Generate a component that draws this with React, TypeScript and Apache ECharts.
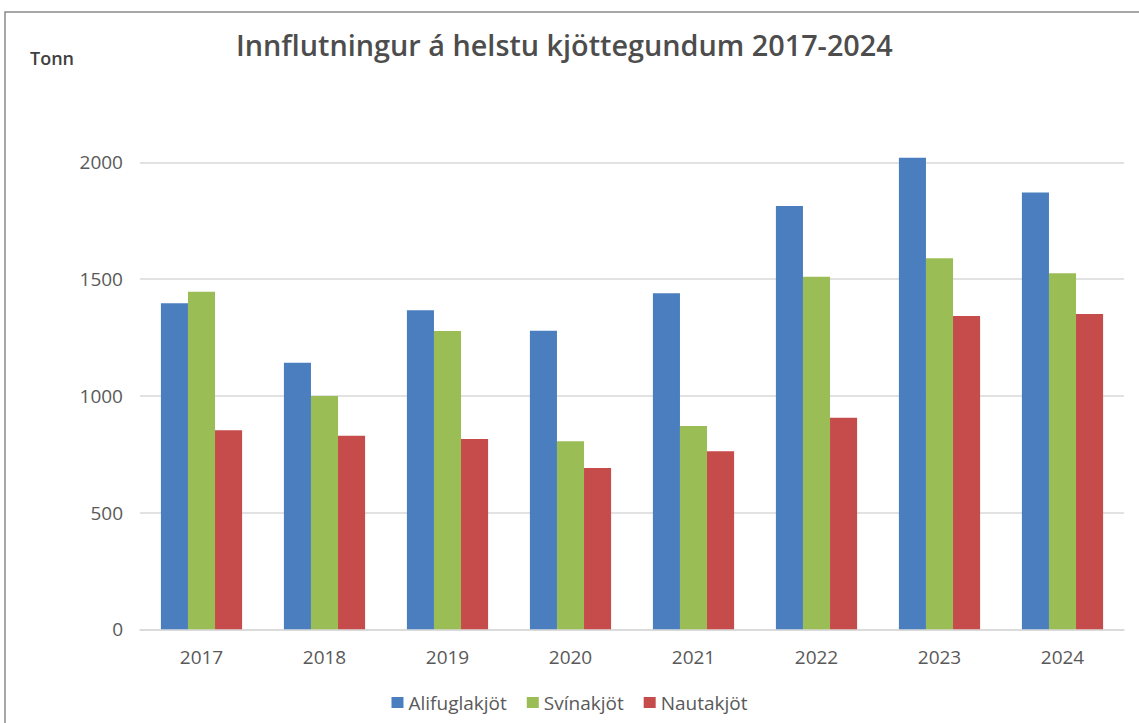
import React, { useEffect, useRef } from "react";
import * as echarts from "echarts";

const categories = ["2017", "2018", "2019", "2020", "2021", "2022", "2023", "2024"];
const alifuglakjot = [1396, 1142, 1366, 1279, 1439, 1813, 2020, 1871];
const svinakjot = [1446, 999, 1278, 805, 871, 1510, 1589, 1525];
const nautakjot = [852, 829, 815, 691, 763, 906, 1342, 1350];
const seriesNames = ["Alifuglakjöt", "Svínakjöt", "Nautakjöt"];
const titleText = "Innflutningur á helstu kjöttegundum 2017-2024";
const unitText = "Tonn";

const FONT = "'Open Sans', sans-serif";

export default function App() {
  const ref = useRef<HTMLDivElement>(null);
  useEffect(() => {
    if (!ref.current) return;
    const chart = echarts.init(ref.current, null, { renderer: "svg" });
    const mkSeries = (name: string, data: number[], color: string) => ({
      name,
      type: "bar",
      data,
      clip: false,
      barGap: "0%",
      barCategoryGap: "34%",
      itemStyle: { color },
    });
    chart.setOption({
      animation: false,
      backgroundColor: "#ffffff",
      textStyle: { fontFamily: FONT },
      title: {
        text: titleText,
        left: 231,
        top: 25,
        textStyle: { fontFamily: FONT, fontSize: 28.8, fontWeight: 600, color: "#4d4d4d" },
      },
      graphic: [
        {
          type: "rect",
          shape: { x: 5, y: 12, width: 1300, height: 900 },
          style: { fill: "none", stroke: "#8a8a8a", lineWidth: 1.5 },
          silent: true,
        },
        {
          type: "text",
          x: 30,
          y: 58,
          style: {
            text: unitText,
            fontFamily: FONT,
            fontSize: 18,
            fontWeight: 600,
            fill: "#404040",
            verticalAlign: "middle",
          },
        },
      ],
      legend: {
        data: seriesNames,
        left: "center",
        top: 688,
        itemWidth: 12,
        itemHeight: 11,
        itemGap: 20,
        icon: "rect",
        textStyle: { fontFamily: FONT, fontSize: 19, color: "#595959" },
      },
      grid: { left: 140, right: 15, top: 162.3, bottom: 93.7, containLabel: false },
      xAxis: {
        type: "category",
        data: categories,
        axisLine: { show: true, lineStyle: { color: "#d9d9d9", width: 1.5 } },
        axisTick: { show: false },
        axisLabel: { fontFamily: FONT, fontSize: 19, color: "#595959", margin: 18 },
      },
      yAxis: {
        type: "value",
        min: 0,
        max: 2000,
        interval: 500,
        axisLine: { show: false },
        axisTick: { show: false },
        splitLine: { lineStyle: { color: "#d9d9d9", width: 1.5 } },
        axisLabel: {
          fontFamily: FONT,
          fontSize: 19,
          color: "#595959",
          margin: 17,
          formatter: (v: number) => String(v),
        },
      },
      series: [
        mkSeries(seriesNames[0], alifuglakjot, "#4A7EBF"),
        mkSeries(seriesNames[1], svinakjot, "#9BBD55"),
        mkSeries(seriesNames[2], nautakjot, "#C64B4B"),
      ],
    });
    return () => chart.dispose();
  }, []);
  return (
    <div
      ref={ref}
      style={{ position: "absolute", left: 0, top: 0, width: 1139, height: 723 }}
    />
  );
}
